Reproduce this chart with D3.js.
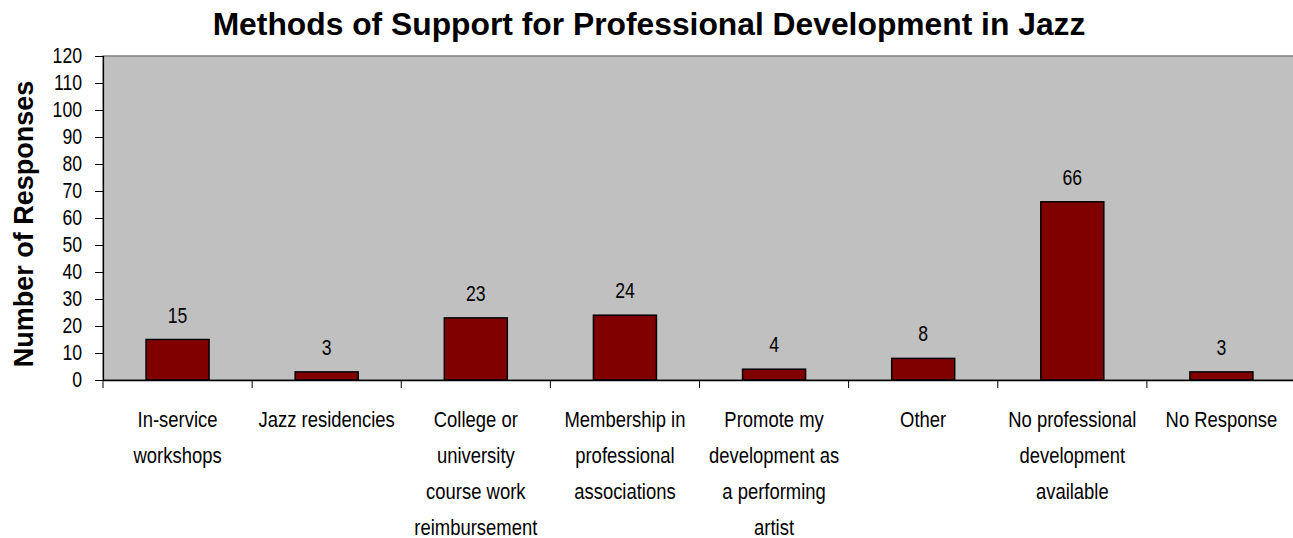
<!DOCTYPE html>
<html>
<head>
<meta charset="utf-8">
<script src="https://cdn.jsdelivr.net/npm/d3@7/dist/d3.min.js"></script>
<style>
  html, body { margin: 0; padding: 0; background: #fff; }
  svg { display: block; }
  .narrow { font-family: "Liberation Sans Narrow", "Arial Narrow", "Liberation Sans", Arial, sans-serif; }
</style>
</head>
<body>
<svg id="chart" width="1293" height="538"></svg>
<script>
const title = "Methods of Support for Professional Development in Jazz";
const yTitle = "Number of Responses";
const categories = [
  ["In-service", "workshops"],
  ["Jazz residencies"],
  ["College or", "university", "course work", "reimbursement"],
  ["Membership in", "professional", "associations"],
  ["Promote my", "development as", "a performing", "artist"],
  ["Other"],
  ["No professional", "development", "available"],
  ["No Response"]
];
const values = [15, 3, 23, 24, 4, 8, 66, 3];
const yTicks = [0, 10, 20, 30, 40, 50, 60, 70, 80, 90, 100, 110, 120];

(function () {
const svg = d3.select("#chart");
const pLeft = 103, pRight = 1296, pTop = 56, pBottom = 380;
const SX = 0.82; // horizontal condensing to mimic a narrow face

const keys = categories.map((c, i) => i);
const x = d3.scaleBand().domain(keys).range([pLeft, pRight]).paddingInner(0.5775).paddingOuter(0.28875);
const xTick = d3.scaleBand().domain(keys).range([pLeft, pRight]);
const y = d3.scaleLinear().domain([0, 120]).range([pBottom, pTop]);

// plot background
svg.append("rect")
  .attr("x", pLeft).attr("y", pTop)
  .attr("width", pRight - pLeft).attr("height", pBottom - pTop)
  .attr("fill", "#c0c0c0").attr("stroke", "#808080").attr("stroke-width", 1.5);

// bars
svg.append("g").selectAll("rect").data(values).join("rect")
  .attr("x", (d, i) => x(i))
  .attr("y", d => y(d))
  .attr("width", x.bandwidth())
  .attr("height", d => y(0) - y(d))
  .attr("fill", "#800000")
  .attr("stroke", "#000").attr("stroke-width", 1.5);

// value labels
svg.append("g").attr("class", "narrow").selectAll("text").data(values).join("text")
  .attr("transform", (d, i) => `translate(${x(i) + x.bandwidth() / 2},${y(d) - 17}) scale(${SX},1)`)
  .attr("text-anchor", "middle")
  .attr("font-size", 21.5)
  .attr("fill", "#000")
  .text(d => d);

// y axis
const yAxis = d3.axisLeft(y).tickValues(yTicks).tickSize(8).tickPadding(13);
const gy = svg.append("g").attr("transform", `translate(${pLeft},0)`).call(yAxis);
gy.select(".domain").attr("stroke", "#000").attr("stroke-width", 1.2);
gy.selectAll(".tick line").attr("stroke", "#000");
gy.selectAll(".tick text")
  .attr("class", "narrow").attr("font-size", 21.5).attr("fill", "#000")
  .attr("x", -21 / SX)
  .attr("transform", `scale(${SX},1)`);

// x axis
const xAxis = d3.axisBottom(xTick).tickValues(keys).tickSize(0).tickFormat("");
const gx = svg.append("g").attr("transform", `translate(0,${pBottom})`).call(xAxis);
gx.select(".domain").attr("stroke", "#000").attr("stroke-width", 1.5);
gx.selectAll(".sep").data(keys).join("line")
  .attr("x1", d => xTick(d)).attr("x2", d => xTick(d))
  .attr("y1", 0).attr("y2", 8)
  .attr("stroke", "#000");
gx.append("line").attr("x1", pRight).attr("x2", pRight).attr("y1", 0).attr("y2", 8).attr("stroke", "#000");

// category labels
const lab = svg.append("g").attr("class", "narrow");
categories.forEach((lines, i) => {
  const cx = xTick(i) + xTick.bandwidth() / 2;
  const t = lab.append("text")
    .attr("transform", `translate(${cx},427) scale(${SX},1)`)
    .attr("text-anchor", "middle")
    .attr("font-size", 22.5)
    .attr("fill", "#000");
  lines.forEach((ln, j) => {
    t.append("tspan")
      .attr("x", 0)
      .attr("dy", j === 0 ? 0 : 36)
      .text(ln);
  });
});

// title
svg.append("text")
  .attr("x", 649).attr("y", 35)
  .attr("text-anchor", "middle")
  .attr("font-family", "'Liberation Sans', Arial, sans-serif")
  .attr("font-weight", "bold")
  .attr("font-size", 31.8)
  .attr("fill", "#000")
  .text(title);

// y title
svg.append("text")
  .attr("transform", `translate(33,224) rotate(-90)`)
  .attr("text-anchor", "middle")
  .attr("font-family", "'Liberation Sans', Arial, sans-serif")
  .attr("font-weight", "bold")
  .attr("font-size", 27)
  .attr("fill", "#000")
  .text(yTitle);
})();
</script>
</body>
</html>
